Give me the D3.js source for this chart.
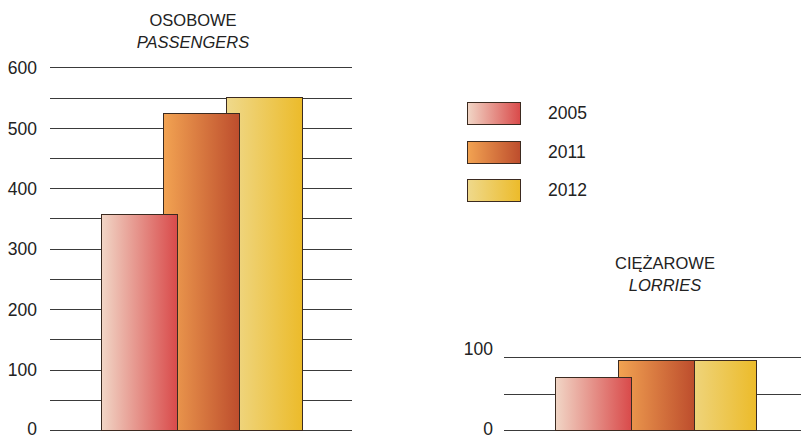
<!DOCTYPE html>
<html>
<head>
<meta charset="utf-8">
<script src="https://cdn.jsdelivr.net/npm/d3@7"></script>
<style>
  html, body { margin: 0; padding: 0; background: #fff; }
  svg { display: block; font-family: "Liberation Sans", Arial, sans-serif; }
</style>
</head>
<body>
<svg id="chart" width="801" height="438"></svg>
<script>
// Registered vehicles by year (thousands)
const years = ["2005", "2011", "2012"];
const passengerValues = [358, 525, 551];
const lorryValues = [73, 96, 96];
const passengerTicks = [0, 100, 200, 300, 400, 500, 600];
const lorryTicks = [0, 100];

// Horizontal gradients per year: light (left) to saturated (right)
const gradStops = [
  ["#f1d6c6", "#d94a4a"],
  ["#f2a352", "#bd4d2d"],
  ["#efd98c", "#ecbb2a"]
];

const svg = d3.select("#chart");
const defs = svg.append("defs");
gradStops.forEach((s, i) => {
  const g = defs.append("linearGradient")
    .attr("id", "grad" + i)
    .attr("x1", "0%").attr("x2", "100%").attr("y1", "0%").attr("y2", "0%");
  g.append("stop").attr("offset", "0%").attr("stop-color", s[0]);
  g.append("stop").attr("offset", "100%").attr("stop-color", s[1]);
});

const textColor = "#222";
const barWidth = 76;

function panel(opts) {
  const y = d3.scaleLinear().domain(opts.domain).range([430, opts.top]);
  const x = d3.scalePoint().domain(years).range(opts.centers);
  const g = svg.append("g");

  // grid lines every 50
  const gridVals = d3.range(opts.domain[0], opts.domain[1] + 1, 50);
  g.selectAll("line.grid").data(gridVals).join("line")
    .attr("class", "grid")
    .attr("x1", opts.gridX[0]).attr("x2", opts.gridX[1])
    .attr("y1", d => Math.round(y(d)) + 0.5)
    .attr("y2", d => Math.round(y(d)) + 0.5)
    .attr("stroke", "#3a3a3a").attr("stroke-width", 1);

  // labelled ticks
  const axis = d3.axisLeft(y).tickValues(opts.ticks).tickSize(0).tickPadding(0);
  const ax = g.append("g").attr("transform", `translate(${opts.labelX},0)`).call(axis);
  ax.select(".domain").remove();
  ax.selectAll("text")
    .attr("font-size", 17.5)
    .attr("font-family", "Liberation Sans, Arial, sans-serif")
    .attr("fill", textColor)
    .attr("dy", d => opts.labelDy(d));

  // bars: leftmost on top
  const idx = years.map((d, i) => i).reverse();
  g.selectAll("rect.bar").data(idx).join("rect")
    .attr("class", "bar")
    .attr("x", i => Math.round(x(years[i]) - barWidth / 2) + 0.5)
    .attr("width", barWidth)
    .attr("y", i => Math.round(y(opts.values[i])) + 0.5)
    .attr("height", i => Math.round(y(0)) - Math.round(y(opts.values[i])))
    .attr("fill", i => `url(#grad${i})`)
    .attr("stroke", "#3b2a20").attr("stroke-width", 1);

  // titles
  g.append("text")
    .attr("x", opts.titleX).attr("y", opts.titleY)
    .attr("text-anchor", "middle").attr("font-size", 16.5).attr("fill", textColor)
    .text(opts.title);
  g.append("text")
    .attr("x", opts.titleX).attr("y", opts.titleY + 22)
    .attr("text-anchor", "middle").attr("font-size", 16.5).attr("font-style", "italic")
    .attr("fill", textColor)
    .text(opts.subtitle);
}

// baseline labels sit a touch higher so they stay inside the frame
panel({
  domain: [0, 600], top: 67.3, ticks: passengerTicks, values: passengerValues,
  centers: [139, 263.8], gridX: [50, 352], labelX: 37,
  labelDy: d => d === 0 ? "0.24em" : "0.36em",
  title: "OSOBOWE", subtitle: "PASSENGERS", titleX: 193, titleY: 26
});

panel({
  domain: [0, 100], top: 357.3, ticks: lorryTicks, values: lorryValues,
  centers: [593.3, 718.1], gridX: [504, 801], labelX: 493,
  labelDy: d => d === 0 ? "0.24em" : "-0.18em",
  title: "CIĘŻAROWE", subtitle: "LORRIES", titleX: 665, titleY: 269
});

// legend
const legend = svg.append("g");
years.forEach((yr, i) => {
  const yy = 102 + i * 38.6;
  legend.append("rect")
    .attr("x", 467.5).attr("y", Math.round(yy) + 0.5)
    .attr("width", 53).attr("height", 22)
    .attr("fill", `url(#grad${i})`)
    .attr("stroke", "#3b2a20").attr("stroke-width", 1);
  legend.append("text")
    .attr("x", 548).attr("y", yy + 11).attr("dy", "0.35em")
    .attr("font-size", 17.5).attr("fill", textColor)
    .text(yr);
});
</script>
</body>
</html>
